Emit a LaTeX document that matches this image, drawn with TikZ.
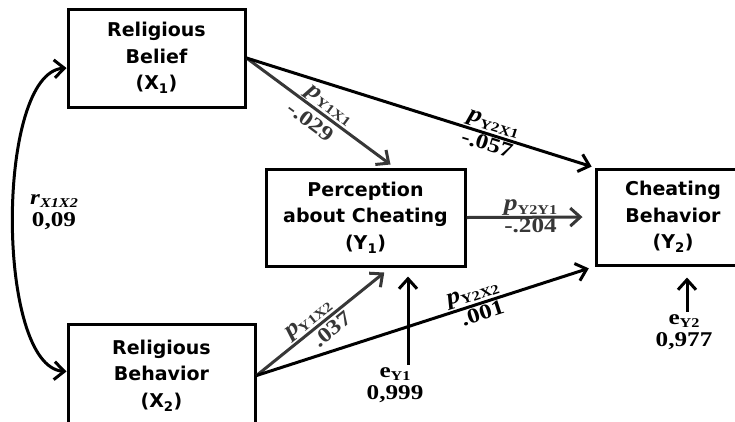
\documentclass[tikz,border=0pt]{standalone}
\usepackage{fontspec}
\usepackage{tikz}
\usetikzlibrary{arrows.meta, positioning}

\newfontfamily\boxfont{DejaVu Sans}
\newfontfamily\coeffont{Liberation Serif}[FakeStretch=1.2]
\definecolor{darkpath}{RGB}{55,55,55}
\newcommand{\sub}[1]{\raisebox{-3.5pt}{\fontsize{13.5}{13.5}\selectfont\bfseries #1}}

\begin{document}
\begin{tikzpicture}[x=1pt,y=-1pt,->,>={Straight Barb[length=10pt,width=18pt]},
	line width=3pt,
	every edge/.append style={line width=3pt},
	var/.style={draw, line width=3pt, align=center, inner sep=0pt,
		font=\boxfont\bfseries\fontsize{19}{26.5}\selectfont},
	plab/.style={font=\coeffont\fontsize{23}{23}\selectfont, inner sep=1pt},
	nlab/.style={font=\coeffont\bfseries\fontsize{21}{22}\selectfont, inner sep=1pt, align=center}]
	\useasboundingbox (0,0) rectangle (735,421);
	\clip (0,0) rectangle (735,421);
	
	\node[var, minimum width=177pt, minimum height=98pt] (x1) at (156.5,58) {Religious\\Belief\\(X\textsubscript{1})};
	\node[var, minimum width=187pt, minimum height=103pt] (x2) [below=214pt of x1.south west, anchor=north west] {Religious\\Behavior\\(X\textsubscript{2})};
	\node[var, minimum width=199pt, minimum height=97pt] (y1) [below right=59pt and 18pt of x1.south east, anchor=north west] {Perception\\about Cheating\\(Y\textsubscript{1})};
	\node[var, minimum width=154pt, minimum height=96pt] (y2) [right=128pt of y1.north east, anchor=north west] {Cheating\\Behavior\\(Y\textsubscript{2})};
	
	\node[nlab] (r12) at (54,212) {\textit{r}\raisebox{-3.5pt}{\fontsize{13.5}{13.5}\selectfont\itshape X1X2}\\0,09};
	\node[nlab] (ey1) at (395,385) {e\sub{Y1}\\0,999};
	\node[nlab] (ey2) at (684,332) {e\sub{Y2}\\0,977};
	
	\draw[<->] ([yshift=-10pt]x1.west) .. controls +(-71,5) and +(-71,-5) .. ([yshift=4pt]x2.west);
	
	\path(x1.east) 
	edge[darkpath] node[plab, pos=.53, above, sloped]{\textbf{\textit{p}}\sub{Y1X1}} node[nlab, pos=.5, below=3pt, sloped]{-.029} ([xshift=25pt, yshift=3pt]y1.north)
	edge[shorten >=3pt] node[plab, pos=.7, above, sloped]{\textbf{\textit{p}}\sub{Y2X1}} node[nlab, pos=.7, below, sloped]{-.057} (y2.north west);
	
	\path(x2.east) 
	edge[darkpath, shorten >=8pt] node[plab, pos=.44, above, sloped]{\textbf{\textit{p}}\sub{Y1X2}} node[nlab, pos=.51, below=2pt, sloped]{.037} ([xshift=25pt]y1.south)
	edge[shorten >=6pt] node[plab, pos=.65, above, sloped]{\textbf{\textit{p}}\sub{Y2X2}} node[nlab, pos=.66, below, sloped]{.001} (y2.south west);
	
	\path(y1.east) edge[darkpath, shorten >=12pt] node[plab, pos=.5, above, inner sep=0pt]{\textbf{\textit{p}}\sub{Y2Y1}} node[nlab, pos=.5, below, inner sep=0pt]{-.204} (y2.west);
	
	\draw[shorten >=9pt] ([xshift=13pt]ey1.north) -- ([xshift=13pt]ey1.north |- y1.south);
	\draw[shorten >=11pt] ([xshift=3pt]ey2.north) -- ([xshift=3pt]ey2.north |- y2.south);
	
\end{tikzpicture}
\end{document}
